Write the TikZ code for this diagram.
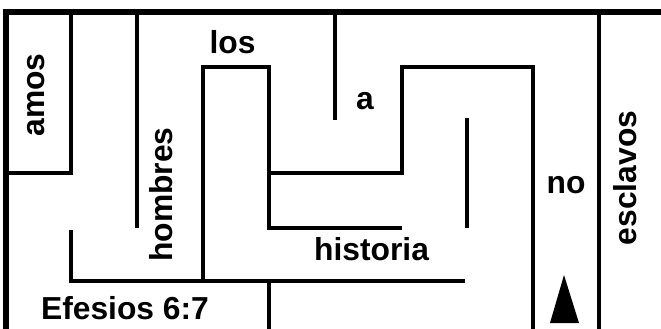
\documentclass[tikz,border=0pt]{standalone}
\usepackage{fontspec}
\setmainfont{Liberation Sans}

\begin{document}
\begin{tikzpicture}[x=1pt,y=-1pt]
\tikzstyle{frame} = [line width=6pt]
\tikzstyle{wall} = [line width=4pt]
\tikzstyle{word} = [font=\fontsize{31.8}{38}\selectfont\bfseries, inner sep=0pt]

\useasboundingbox (0,0) rectangle (661,329);

% outer frame
\draw [frame] (3,12) -- (661,12);
\draw [frame] (5.5,9) -- (5.5,329);

% walls
\draw [wall] (71,12) -- (71,173) -- (5,173);
\draw [wall] (137,12) -- (137,228);
\draw [wall] (203,281) -- (203,67) -- (269,67) -- (269,228) -- (402,228);
\draw [wall] (269,173) -- (402,173) -- (402,67) -- (533,67) -- (533,329);
\draw [wall] (335,12) -- (335,120);
\draw [wall] (467,118) -- (467,228);
\draw [wall] (599,12) -- (599,329);
\draw [wall] (71,230) -- (71,281) -- (465,281);
\draw [wall] (269,281) -- (269,329);

% words
\node (amos) [word, rotate=90] at (36,95) {amos};
\node (hombres) [word, rotate=90] at (161.5,194.5) {hombres};
\node (los) [word] at (232.5,42) {los};
\node (a) [word] at (365,101.5) {a};
\node (no) [word] at (566,185) {no};
\node (esclavos) [word, rotate=90] at (625,178) {esclavos};
\node (historia) [word] at (371.5,249.5) {historia};
\node (efesios) [word] at (125,308.5) {Efesios 6:7};

% start marker
\fill (564,275) -- (579,323) -- (550,323) -- cycle;
\end{tikzpicture}
\end{document}
